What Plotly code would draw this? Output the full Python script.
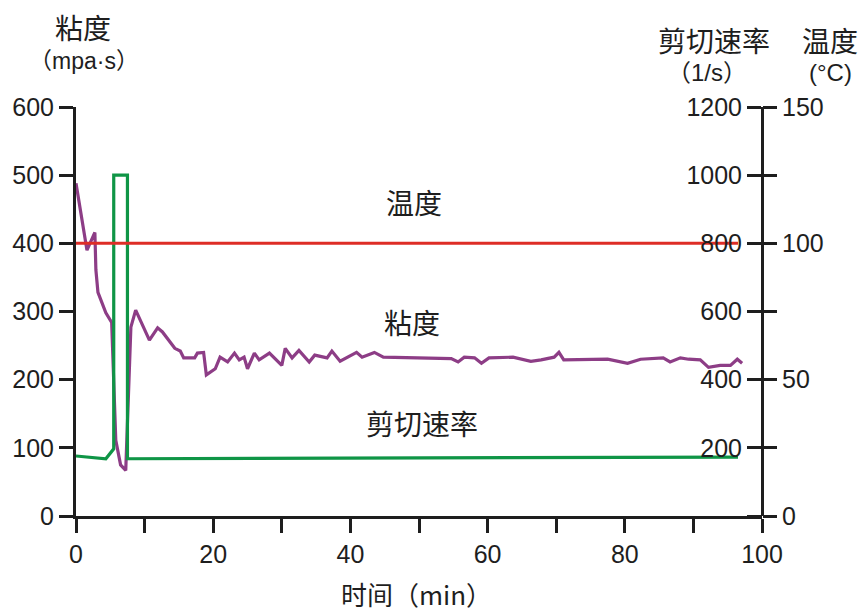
import plotly.graph_objects as go

# Viscosity (mPa·s) vs time (min)
visc_t = [0, 1.6, 2.75, 2.9, 3.2, 4.35, 5.2, 5.8, 6.5, 7.25, 8.0, 8.7, 10.7, 11.9, 12.6,
          13.8, 14.4, 15.2, 15.7, 17.3, 17.7, 18.6, 19.0, 20.3, 21.0, 22.1, 23.1, 23.8,
          24.5, 25.0, 26.0, 26.7, 28.2, 30.0, 30.5, 31.5, 32.5, 34.0, 34.8, 36.6, 37.3,
          38.5, 40.9, 41.7, 43.5, 44.8, 54.7, 55.7, 56.6, 58.1, 59.1, 60.2, 62.0, 63.7,
          66.3, 67.8, 69.7, 70.4, 71.1, 77.5, 80.4, 82.3, 85.6, 86.6, 88.1, 89.3, 91.0,
          92.2, 93.9, 95.4, 96.4, 97.1]
visc_v = [488, 390, 416, 361, 328, 298, 284, 111, 75, 67, 277, 302, 258, 276, 270,
          255, 246, 242, 232, 232, 239, 240, 207, 216, 233, 226, 239, 229,
          233, 216, 239, 229, 239, 221, 246, 232, 243, 226, 236, 232, 242,
          227, 240, 233, 240, 233, 231, 226, 233, 232, 224, 232, 233, 233,
          227, 229, 233, 240, 229, 230, 224, 230, 232, 226, 232, 230, 229,
          218, 221, 221, 230, 224]

# Shear rate (1/s) vs time (min)
shear_t = [0, 4.35, 5.5, 5.5, 7.5, 7.5, 96.5]
shear_v = [176, 168, 197, 1000, 1000, 168, 173]

# Temperature (°C) vs time (min)
temp_t = [0, 96.5]
temp_v = [100, 100]

INK = "#1e1e1e"
FONT = "Liberation Sans, Arial, Noto Sans CJK SC, sans-serif"
CJK = "Noto Sans CJK SC, Liberation Sans, sans-serif"

fig = go.Figure()
fig.add_trace(go.Scatter(x=shear_t, y=shear_v, yaxis="y2", mode="lines",
                         line=dict(color="#0f9546", width=3.2), hoverinfo="skip"))
fig.add_trace(go.Scatter(x=visc_t, y=visc_v, yaxis="y", mode="lines",
                         line=dict(color="#8d3d86", width=3.2), hoverinfo="skip"))
fig.add_trace(go.Scatter(x=temp_t, y=temp_v, yaxis="y3", mode="lines",
                         line=dict(color="#de2d26", width=3), hoverinfo="skip"))

x_ticks = list(range(0, 101, 10))
x_text = [str(v) if v % 20 == 0 else "" for v in x_ticks]
shear_ticks = list(range(0, 1201, 200))
shear_text = ["" if v == 0 else str(v) for v in shear_ticks]
temp_ticks = [0, 25, 50, 75, 100, 125, 150]
temp_text = [str(v) if v % 50 == 0 else "" for v in temp_ticks]

tick_style = dict(ticks="outside", ticklen=14, tickwidth=3, tickcolor=INK,
                  showgrid=False, zeroline=False, tickfont=dict(size=25))

fig.update_layout(
    width=863, height=611,
    margin=dict(l=73, r=101, t=107, b=95),
    plot_bgcolor="white", paper_bgcolor="white",
    showlegend=False,
    font=dict(family=FONT, color=INK, size=24),
    xaxis=dict(range=[0, 100], tickvals=x_ticks, ticktext=x_text,
               showline=True, linecolor=INK, linewidth=3, **tick_style),
    yaxis=dict(range=[0, 600], tickvals=list(range(0, 601, 100)),
               showline=True, linecolor=INK, linewidth=3, **tick_style),
    # shear-rate scale: labels and ticks on the inner side of the right spine
    yaxis2=dict(range=[0, 1200], overlaying="y", side="left", anchor="free",
                position=1.0, tickvals=shear_ticks, ticktext=shear_text,
                showline=True, linecolor=INK, linewidth=3, **tick_style),
    # temperature scale: outer side of the same spine
    yaxis3=dict(range=[0, 150], overlaying="y", side="right", anchor="x",
                tickvals=temp_ticks, ticktext=temp_text,
                showline=False, **tick_style),
)

W, H = 863, 611
L, B, PW, PH = 73, 95, 689, 409

def px(xp, yp, text, size, family=CJK):
    # place text by page pixel centre
    fig.add_annotation(text=text, x=(xp - L) / PW, y=(H - yp - B) / PH,
                       xref="paper", yref="paper", showarrow=False,
                       xanchor="center", yanchor="middle",
                       font=dict(family=family, size=size, color=INK))

# axis titles
px(80, 27, "粘度", 28)
px(81, 61, "（mpa·s）", 23, FONT)
px(714, 40, "剪切速率", 28)
px(707, 72, "（1/s）", 24, FONT)
px(830, 40, "温度", 28)
px(831, 72, "(°C)", 24, FONT)
px(415, 593, "时间（min）", 26)

# series labels
px(412, 202, "温度", 28)
px(410, 322, "粘度", 28)
px(421, 423, "剪切速率", 28)

fig.write_html("out.html")
